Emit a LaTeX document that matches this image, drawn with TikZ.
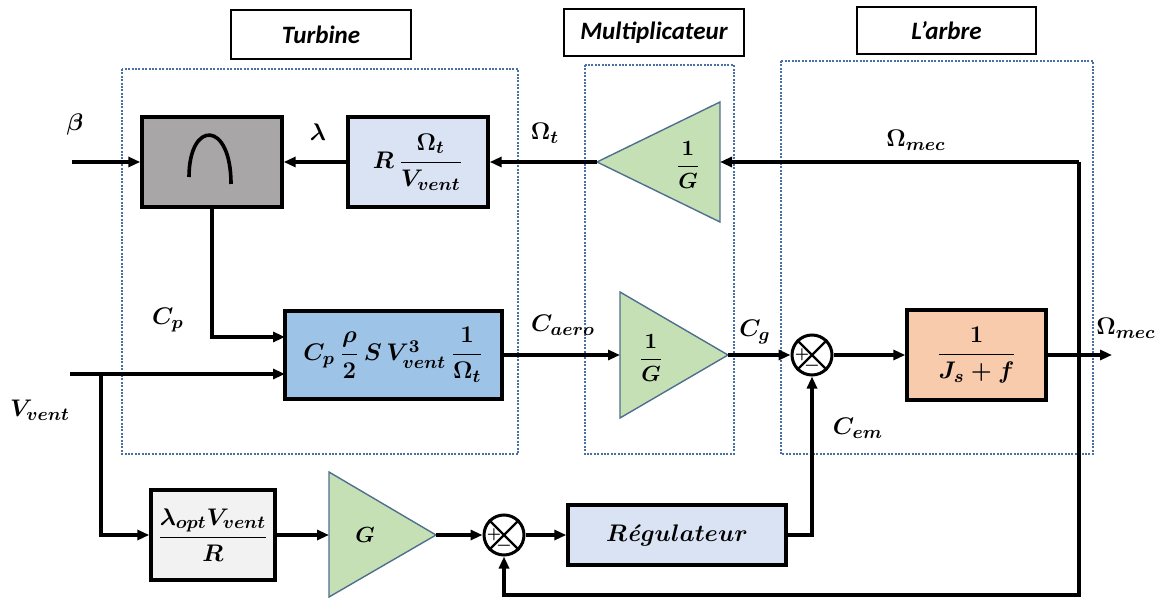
\documentclass[tikz,border=0pt]{standalone}
\usepackage{amsmath}
\usepackage{fontspec}
\newfontfamily\titlefont{Carlito}
\usetikzlibrary{arrows.meta}
\definecolor{grayblk}{HTML}{A8A6A6}
\definecolor{lightblue}{HTML}{DAE3F3}
\definecolor{midblue}{HTML}{9DC3E6}
\definecolor{lightgray}{HTML}{F2F2F2}
\definecolor{orangeblk}{HTML}{F8CBAD}
\definecolor{trigreen}{HTML}{C5E0B4}
\definecolor{triedge}{HTML}{4F6F8F}
\definecolor{grpblue}{HTML}{4A6FA5}
\DeclareMathSizes{12}{12}{9.5}{7.5}
\DeclareMathSizes{11.5}{11.5}{9}{7}
\DeclareMathSizes{11}{11}{8.5}{7}
\newcommand{\blkfont}{\fontsize{12}{14}\selectfont\boldmath}
\newcommand{\lblfont}{\fontsize{11.5}{13}\selectfont\boldmath}
\newcommand{\trifont}{\fontsize{11}{13}\selectfont\boldmath}
\begin{document}
\begin{tikzpicture}[x=0.5pt,y=-0.5pt,
  conn/.style={line width=1.7pt,-{Triangle[length=6pt,width=5pt]}},
  blk/.style={draw,line width=1.7pt,inner sep=0pt,font=\blkfont},
  ttl/.style={draw,line width=1.2pt,inner sep=0pt,font=\titlefont\bfseries\itshape\fontsize{12.5}{14}\selectfont},
  grp/.style={draw=grpblue,line width=1.2pt,dash pattern=on 1pt off 0.7pt},
  tri/.style={draw=triedge,fill=trigreen,line width=0.7pt},
  lbl/.style={inner sep=0pt,font=\lblfont},
  sumj/.style={circle,draw,line width=1.5pt,minimum size=20pt,inner sep=0pt},
  sgn/.style={inner sep=0pt,font=\fontsize{7.5}{8}\selectfont\bfseries}]
\useasboundingbox (0,0) rectangle (1166,598);

% group titles
\node[ttl,minimum width=90pt,minimum height=24.5pt] (tturb) at (321,34.5) {Turbine};
\node[ttl,minimum width=90pt,minimum height=23.5pt] (tmult) at (654,32.5) {Multiplicateur};
\node[ttl,minimum width=89.5pt,minimum height=23.5pt] (tarb) at (946.5,30.5) {L’arbre};

% dotted groups
\draw[grp] (122,69) rectangle (518,454);
\draw[grp] (585,65) rectangle (734,454);
\draw[grp] (781,61) rectangle (1093,454);

% blocks
\node[blk,fill=grayblk,minimum width=70pt,minimum height=45pt] (gray) at (212,162) {};
\draw[line width=1.8pt] (189,177) .. controls (189,120) and (231,120) .. (231,184);
\node[blk,fill=lightblue,minimum width=70pt,minimum height=45pt] (R) at (418,162) {$R\,\dfrac{\Omega_t}{V_{vent}}$};
\node[blk,fill=midblue,minimum width=108.5pt,minimum height=44pt] (Cp) at (393.5,355) {$C_p\,\dfrac{\rho}{2}\,S\,V_{vent}^{3}\,\dfrac{1}{\Omega_t}$};
\node[blk,fill=lightgray,minimum width=62pt,minimum height=45pt] (lopt) at (213,535) {$\dfrac{\lambda_{opt}V_{vent}}{R}$};
\node[blk,fill=lightblue,minimum width=109pt,minimum height=30pt] (reg) at (677,535) {$R$\textbf{\textit{é}}$gulateur$};
\node[blk,fill=orangeblk,minimum width=69.5pt,minimum height=45pt] (orng) at (976.5,355) {$\dfrac{1}{J_s+f}$};

% triangles
\draw[tri] (597,162) -- (720,102) -- (720,222) -- cycle;
\coordinate (t1tip) at (597,162); \coordinate (t1back) at (720,162);
\node[lbl,font=\trifont] (t1lab) at (688,165) {$\dfrac{1}{G}$};
\draw[tri] (620,292) -- (728,355) -- (620,418) -- cycle;
\coordinate (t2tip) at (728,355); \coordinate (t2back) at (620,355);
\node[lbl,font=\trifont] (t2lab) at (651,358) {$\dfrac{1}{G}$};
\draw[tri] (329,472) -- (436,535) -- (329,597) -- cycle;
\coordinate (t3tip) at (436,535); \coordinate (t3back) at (329,535);
\node[lbl,font=\trifont] (t3lab) at (365,535) {$G$};

% summing junctions
\node[sumj] (s1) at (812,355) {};
\draw[line width=1.2pt] (s1.45) -- (s1.225) (s1.135) -- (s1.-45);
\node[sgn] (s1p) at (802,355) {+};
\node[sgn] (s1m) at (812,367) {\textminus};
\node[sumj] (s2) at (504,535) {};
\draw[line width=1.2pt] (s2.45) -- (s2.225) (s2.135) -- (s2.-45);
\node[sgn] (s2p) at (494,535) {+};
\node[sgn] (s2m) at (504,547) {\textminus};

% coordinates
\coordinate (betain) at (72,162);
\coordinate (cpin1) at (285,337);
\coordinate (vin) at (70,374);
\coordinate (vj) at (101,374);
\coordinate (cpin2) at (285,374);
\coordinate (fbtop) at (1079,162);
\coordinate (fbbot) at (1079,595);
\coordinate (out) at (1112,355);

% connectors
\draw[conn] (betain) -- (gray.west);
\draw[conn] (R.west) -- (gray.east);
\draw[conn] (t1tip) -- (R.east);
\draw[conn] (fbtop) -- (t1back);
\draw[conn] (fbtop) -- (fbbot) -| (s2.south);
\draw[conn] (gray.south) |- (cpin1);
\draw[conn] (vin) -- (cpin2);
\draw[conn] (vj) |- (lopt.west);
\draw[conn] (lopt.east) -- (t3back);
\draw[conn] (t3tip) -- (s2.west);
\draw[conn] (s2.east) -- (reg.west);
\draw[conn] (reg.east) -| (s1.south);
\draw[conn] (Cp.east) -- (t2back);
\draw[conn] (t2tip) -- (s1.west);
\draw[conn] (s1.east) -- (orng.west);
\draw[conn] (orng.east) -- (out);

% labels
\node[lbl] (lbeta) at (75,125) {$\beta$};
\node[lbl] (llam) at (318,132) {$\lambda$};
\node[lbl] (lomt) at (545,133) {$\Omega_t$};
\node[lbl] (lomm1) at (916,140) {$\Omega_{mec}$};
\node[lbl] (lcp) at (168,320) {$C_p$};
\node[lbl] (lvv) at (40,410) {$V_{vent}$};
\node[lbl] (lcaero) at (563,325) {$C_{aero}$};
\node[lbl] (lcg) at (755,332) {$C_g$};
\node[lbl] (lomm2) at (1126,328) {$\Omega_{mec}$};
\node[lbl] (lcem) at (858,428) {$C_{em}$};
\end{tikzpicture}
\end{document}
